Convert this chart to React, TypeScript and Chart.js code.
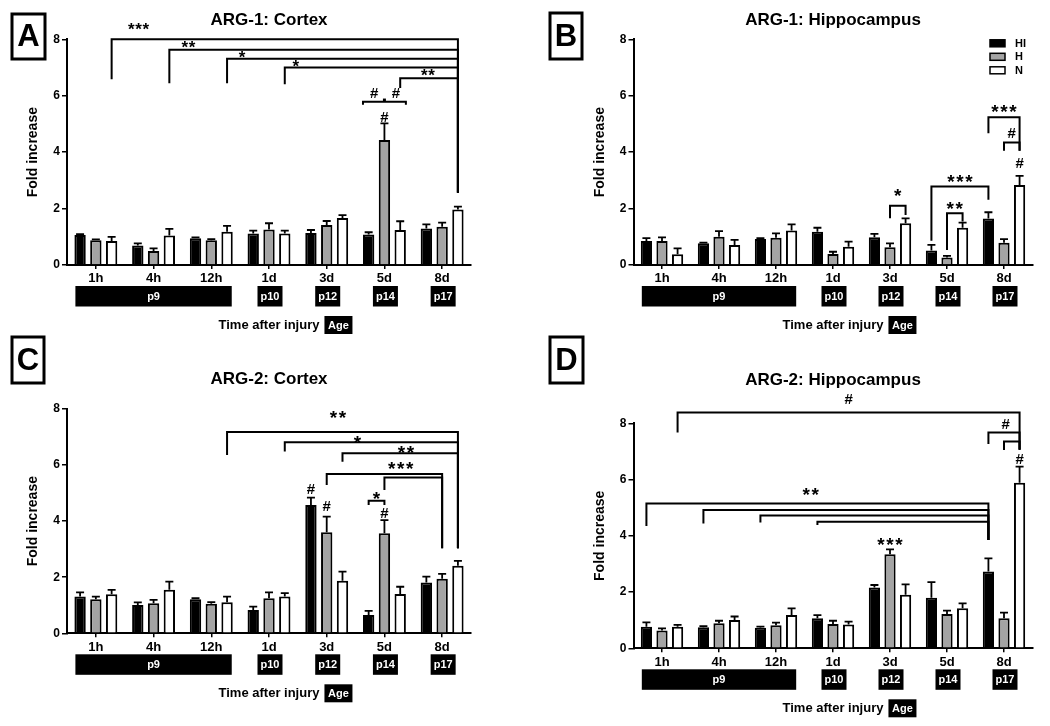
import React, { useEffect, useRef } from 'react';
import { Chart, registerables } from 'chart.js';
Chart.register(...registerables);

const FAMILY = '"Liberation Sans", Arial, Helvetica, sans-serif';

// ---------- shared data ----------
const categories = ['1h', '4h', '12h', '1d', '3d', '5d', '8d'];
const seriesNames = ['HI', 'H', 'N'];
const seriesColors = ['#000000', '#a4a4a4', '#ffffff'];
const yTicks = [0, 2, 4, 6, 8];
const ageLabels = ['p9', 'p10', 'p12', 'p14', 'p17'];
const ageSpans = [[0, 2], [3, 3], [4, 4], [5, 5], [6, 6]];

// ---------- Panel A: ARG-1 Cortex ----------
const aHI = [1.06, 0.69, 0.95, 1.12, 1.13, 1.08, 1.29];
const aH = [0.88, 0.50, 0.88, 1.26, 1.42, 4.43, 1.36];
const aN = [0.85, 1.05, 1.18, 1.12, 1.67, 1.24, 1.97];
const aHIerr = [0.03, 0.08, 0.03, 0.10, 0.11, 0.08, 0.15];
const aHerr = [0.03, 0.09, 0.04, 0.22, 0.14, 0.59, 0.14];
const aNerr = [0.15, 0.23, 0.21, 0.10, 0.10, 0.31, 0.10];

// ---------- Panel B: ARG-1 Hippocampus ----------
const bHI = [0.85, 0.77, 0.92, 1.18, 0.98, 0.51, 1.65];
const bH = [0.85, 1.00, 0.97, 0.39, 0.63, 0.27, 0.79];
const bN = [0.38, 0.71, 1.22, 0.65, 1.48, 1.32, 2.84];
const bHIerr = [0.10, 0.02, 0.03, 0.14, 0.12, 0.20, 0.22];
const bHerr = [0.13, 0.20, 0.15, 0.08, 0.14, 0.05, 0.13];
const bNerr = [0.21, 0.18, 0.22, 0.18, 0.17, 0.18, 0.32];

// ---------- Panel C: ARG-2 Cortex ----------
const cHI = [1.31, 1.01, 1.21, 0.83, 4.58, 0.65, 1.81];
const cH = [1.21, 1.07, 1.05, 1.25, 3.60, 3.57, 1.95];
const cN = [1.39, 1.55, 1.11, 1.31, 1.87, 1.40, 2.41];
const cHIerr = [0.15, 0.09, 0.04, 0.12, 0.26, 0.15, 0.21];
const cHerr = [0.10, 0.12, 0.06, 0.21, 0.56, 0.47, 0.17];
const cNerr = [0.16, 0.29, 0.20, 0.12, 0.33, 0.26, 0.17];

// ---------- Panel D: ARG-2 Hippocampus ----------
const dHI = [0.77, 0.75, 0.73, 1.07, 2.16, 1.80, 2.73];
const dH = [0.63, 0.89, 0.82, 0.86, 3.34, 1.22, 1.07];
const dN = [0.77, 1.01, 1.18, 0.85, 1.90, 1.42, 5.89];
const dHIerr = [0.15, 0.04, 0.04, 0.11, 0.09, 0.55, 0.47];
const dHerr = [0.08, 0.09, 0.09, 0.12, 0.18, 0.12, 0.20];
const dNerr = [0.06, 0.12, 0.24, 0.10, 0.37, 0.18, 0.57];

// ---------- significance annotations (data units) ----------
type Bracket = {
  a: [number, number, number]; // [category, series, leg end value]
  b: [number, number, number];
  y: number;
  text?: string;
  t?: number;
  ly?: number;
  edge?: boolean;
  mid?: [number, number];
  texts?: [string, number][];
};
type Mark = { cat: number; ser: number; y: number; text: string };

const aBrackets: Bracket[] = [
  { a: [0, 2, 6.58], b: [6, 2, 2.56], y: 8.0, text: '***', t: 0.078, ly: 8.27 },
  { a: [1, 2, 6.44], b: [6, 2, 2.56], y: 7.63, text: '**', t: 0.066, ly: 7.83 },
  { a: [2, 2, 6.44], b: [6, 2, 2.56], y: 7.31, text: '*', t: 0.065, ly: 7.45 },
  { a: [3, 2, 6.41], b: [6, 2, 2.56], y: 7.0, text: '*', t: 0.063, ly: 7.15 },
  { a: [5, 2, 6.27], b: [6, 2, 2.56], y: 6.62, text: '**', t: 0.48, ly: 6.84 },
  { a: [5, 0, 5.68], b: [5, 2, 5.68], y: 5.79, edge: true, mid: [1, 5.9], texts: [['#', 0.26], ['#', 0.77]], ly: 6.11 },
];
const aMarks: Mark[] = [{ cat: 5, ser: 1, y: 5.26, text: '#' }];

const bBrackets: Bracket[] = [
  { a: [4, 1, 1.66], b: [4, 2, 1.77], y: 2.10, text: '*', t: 0.5, ly: 2.4 },
  { a: [5, 0, 0.86], b: [6, 0, 2.31], y: 2.78, text: '***', t: 0.5, ly: 3.05 },
  { a: [5, 1, 0.53], b: [5, 2, 1.54], y: 1.83, text: '**', t: 0.5, ly: 2.12 },
  { a: [6, 0, 4.67], b: [6, 2, 4.05], y: 5.24, text: '***', t: 0.5, ly: 5.56 },
  { a: [6, 1, 4.05], b: [6, 2, 4.05], y: 4.34, text: '#', t: 0.5, ly: 4.67 },
];
const bMarks: Mark[] = [{ cat: 6, ser: 2, y: 3.61, text: '#' }];

const cBrackets: Bracket[] = [
  { a: [2, 2, 6.36], b: [6, 2, 3.03], y: 7.18, text: '**', t: 0.48, ly: 7.61 },
  { a: [3, 2, 6.48], b: [6, 2, 3.03], y: 6.81, text: '*', t: 0.42, ly: 6.93 },
  { a: [4, 2, 6.12], b: [6, 2, 3.03], y: 6.42, text: '**', t: 0.55, ly: 6.56 },
  { a: [4, 1, 5.29], b: [6, 1, 3.03], y: 5.68, text: '***', t: 0.64, ly: 5.97 },
  { a: [5, 1, 5.11], b: [6, 1, 3.03], y: 5.56 },
  { a: [5, 0, 4.58], b: [5, 1, 4.58], y: 4.73, text: '*', t: 0.5, ly: 4.93 },
];
const cMarks: Mark[] = [
  { cat: 4, ser: 0, y: 5.14, text: '#' },
  { cat: 4, ser: 1, y: 4.54, text: '#' },
  { cat: 5, ser: 1, y: 4.30, text: '#' },
];

const dBrackets: Bracket[] = [
  { a: [0, 2, 7.67], b: [6, 2, 7.07], y: 8.38, text: '#', t: 0.5, ly: 8.73 },
  { a: [6, 0, 7.26], b: [6, 2, 7.07], y: 7.67, text: '#', t: 0.55, ly: 7.96 },
  { a: [6, 1, 7.05], b: [6, 2, 7.05], y: 7.35 },
  { a: [0, 0, 4.35], b: [6, 0, 3.85], y: 5.15, text: '**', t: 0.48, ly: 5.57 },
  { a: [1, 0, 4.44], b: [6, 0, 3.85], y: 4.92 },
  { a: [2, 0, 4.47], b: [6, 0, 3.85], y: 4.72 },
  { a: [3, 0, 4.38], b: [6, 0, 3.85], y: 4.50 },
];
const dMarks: Mark[] = [
  { cat: 6, ser: 2, y: 6.72, text: '#' },
  { cat: 4, ser: 1, y: 3.79, text: '***' },
];

// ---------- layout (positions / styles) ----------
type Panel = {
  letter: string;
  title: string;
  titleY: number;
  box: [number, number, number, number];
  area: { left: number; right: number; top: number; bottom: number };
  values: number[][];
  errs: number[][];
  brackets: Bracket[];
  marks: Mark[];
  legend: boolean;
  small: boolean;
};

const panels: Panel[] = [
  {
    letter: 'A', title: 'ARG-1: Cortex', titleY: 20, box: [12, 14, 33, 45],
    area: { left: 67, right: 471, top: 39.3, bottom: 265 },
    values: [aHI, aH, aN], errs: [aHIerr, aHerr, aNerr],
    brackets: aBrackets, marks: aMarks, legend: false, small: true,
  },
  {
    letter: 'B', title: 'ARG-1: Hippocampus', titleY: 20, box: [550, 13, 32, 46],
    area: { left: 633.5, right: 1032.5, top: 39.3, bottom: 265 },
    values: [bHI, bH, bN], errs: [bHIerr, bHerr, bNerr],
    brackets: bBrackets, marks: bMarks, legend: true, small: false,
  },
  {
    letter: 'C', title: 'ARG-2: Cortex', titleY: 379, box: [12, 337, 32, 46],
    area: { left: 67, right: 471, top: 409, bottom: 633.3 },
    values: [cHI, cH, cN], errs: [cHIerr, cHerr, cNerr],
    brackets: cBrackets, marks: cMarks, legend: false, small: false,
  },
  {
    letter: 'D', title: 'ARG-2: Hippocampus', titleY: 380, box: [550, 337, 33, 46],
    area: { left: 633.5, right: 1032.5, top: 423.3, bottom: 648.3 },
    values: [dHI, dH, dN], errs: [dHIerr, dHerr, dNerr],
    brackets: dBrackets, marks: dMarks, legend: false, small: false,
  },
];

const W = 1050;
const H = 726;
const Y_W = 42;
const X_H = 20;

function drawLabel(ctx: CanvasRenderingContext2D, text: string, cx: number, cy: number, small: boolean) {
  const isHash = text.indexOf('#') >= 0;
  const size = isHash ? 15 : small ? 17 : 19;
  const spacing = isHash ? 0 : small ? 0.6 : 1.6;
  ctx.font = `bold ${size}px ${FAMILY}`;
  const m = ctx.measureText(text[0]);
  const adv = m.width + spacing;
  const n = text.length;
  const base = cy + (m.actualBoundingBoxAscent - m.actualBoundingBoxDescent) / 2;
  ctx.textAlign = 'center';
  ctx.textBaseline = 'alphabetic';
  ctx.fillStyle = '#000';
  for (let i = 0; i < n; i++) ctx.fillText(text[i], cx + (i - (n - 1) / 2) * adv, base);
}

function makePlugin(p: Panel) {
  return {
    id: 'panelDecor' + p.letter,
    afterDatasetsDraw(chart: any) {
      const ctx: CanvasRenderingContext2D = chart.ctx;
      const ys = chart.scales.y;
      ctx.save();
      ctx.strokeStyle = '#000';
      ctx.lineWidth = 1.8;
      p.values.forEach((vals, s) => {
        const meta = chart.getDatasetMeta(s);
        vals.forEach((v, i) => {
          const bar = meta.data[i];
          const top = ys.getPixelForValue(v + p.errs[s][i]);
          ctx.beginPath();
          ctx.moveTo(bar.x, bar.y);
          ctx.lineTo(bar.x, top);
          ctx.moveTo(bar.x - 4, top);
          ctx.lineTo(bar.x + 4, top);
          ctx.stroke();
        });
      });
      ctx.restore();
    },
    afterDraw(chart: any) {
      const ctx: CanvasRenderingContext2D = chart.ctx;
      const xs = chart.scales.x;
      const ys = chart.scales.y;
      const ca = chart.chartArea;
      const cx = (ca.left + ca.right) / 2;
      ctx.save();

      // panel letter box
      const [bx, by, bw, bh] = p.box;
      ctx.strokeStyle = '#000';
      ctx.lineWidth = 3;
      ctx.strokeRect(bx, by, bw, bh);
      ctx.fillStyle = '#000';
      ctx.font = `bold 31px ${FAMILY}`;
      ctx.textAlign = 'center';
      ctx.textBaseline = 'middle';
      ctx.fillText(p.letter, bx + bw / 2, by + bh / 2 + 1);

      // title
      ctx.font = `bold 17px ${FAMILY}`;
      ctx.fillText(p.title, cx, p.titleY);

      // age boxes
      const boxTop = ca.bottom + 21;
      const boxH = 20.5;
      ageLabels.forEach((lab, k) => {
        const [c0, c1] = ageSpans[k];
        let left: number;
        let right: number;
        if (c0 !== c1) {
          const b0 = chart.getDatasetMeta(0).data[c0];
          const b1 = chart.getDatasetMeta(2).data[c1];
          left = b0.x - b0.width / 2 + 1;
          right = b1.x + b1.width / 2 - 1;
        } else {
          const c = xs.getPixelForValue(c0) + 1;
          left = c - 12.5;
          right = c + 12.5;
        }
        ctx.fillStyle = '#000';
        ctx.fillRect(left, boxTop, right - left, boxH);
        ctx.fillStyle = '#fff';
        ctx.font = `bold 11px ${FAMILY}`;
        ctx.textAlign = 'center';
        ctx.textBaseline = 'middle';
        ctx.fillText(lab, (left + right) / 2, boxTop + boxH / 2 + 0.5);
      });

      // x caption with Age key
      const capY = ca.bottom + 60;
      ctx.font = `bold 13px ${FAMILY}`;
      ctx.fillStyle = '#000';
      ctx.textAlign = 'center';
      ctx.textBaseline = 'middle';
      const capText = 'Time after injury';
      const tw = ctx.measureText(capText).width;
      ctx.fillText(capText, cx, capY);
      const ageX = cx + tw / 2 + 5;
      ctx.fillRect(ageX, capY - 9, 28, 18);
      ctx.fillStyle = '#fff';
      ctx.font = `bold 11px ${FAMILY}`;
      ctx.fillText('Age', ageX + 14, capY + 0.5);

      // legend
      if (p.legend) {
        seriesNames.forEach((name, s) => {
          const yc = ca.top + 4 + s * 13.5;
          const lx = ca.right - 42.5;
          ctx.fillStyle = seriesColors[s];
          ctx.fillRect(lx, yc - 3.5, 15, 7);
          ctx.strokeStyle = '#000';
          ctx.lineWidth = 1.5;
          ctx.strokeRect(lx, yc - 3.5, 15, 7);
          ctx.fillStyle = '#000';
          ctx.font = `bold 11px ${FAMILY}`;
          ctx.textAlign = 'left';
          ctx.textBaseline = 'middle';
          ctx.fillText(name, lx + 25, yc + 0.5);
        });
      }

      // brackets
      ctx.strokeStyle = '#000';
      ctx.lineWidth = 2;
      ctx.lineJoin = 'miter';
      ctx.lineCap = 'butt';
      p.brackets.forEach((br) => {
        const ba = chart.getDatasetMeta(br.a[1]).data[br.a[0]];
        const bb = chart.getDatasetMeta(br.b[1]).data[br.b[0]];
        const x1 = br.edge ? ba.x - ba.width / 2 : ba.x;
        const x2 = br.edge ? bb.x + bb.width / 2 : bb.x;
        const yl = ys.getPixelForValue(br.y);
        ctx.beginPath();
        ctx.moveTo(x1, ys.getPixelForValue(br.a[2]));
        ctx.lineTo(x1, yl);
        ctx.lineTo(x2, yl);
        ctx.lineTo(x2, ys.getPixelForValue(br.b[2]));
        ctx.stroke();
        if (br.mid) {
          const bm = chart.getDatasetMeta(br.mid[0]).data[br.a[0]];
          ctx.beginPath();
          ctx.moveTo(bm.x, yl);
          ctx.lineTo(bm.x, ys.getPixelForValue(br.mid[1]));
          ctx.lineWidth = 3;
          ctx.stroke();
          ctx.lineWidth = 2;
        }
        const ly = ys.getPixelForValue(br.ly ?? br.y);
        if (br.text) drawLabel(ctx, br.text, x1 + (br.t ?? 0.5) * (x2 - x1), ly, p.small);
        if (br.texts) br.texts.forEach(([tx, t]) => drawLabel(ctx, tx, x1 + t * (x2 - x1), ly, p.small));
      });

      // standalone marks
      p.marks.forEach((m) => {
        const bar = chart.getDatasetMeta(m.ser).data[m.cat];
        drawLabel(ctx, m.text, bar.x, ys.getPixelForValue(m.y), p.small);
      });

      ctx.restore();
    },
  };
}

function makeConfig(p: Panel): any {
  const font = (size: number) => ({ family: FAMILY, size, weight: 'bold' as const });
  return {
    type: 'bar',
    data: {
      labels: categories,
      datasets: seriesNames.map((name, s) => ({
        label: name,
        data: p.values[s],
        backgroundColor: seriesColors[s],
        borderColor: '#000',
        borderWidth: 2,
        categoryPercentage: 0.82,
        barPercentage: 0.72,
      })),
    },
    options: {
      animation: false,
      responsive: false,
      maintainAspectRatio: false,
      events: [],
      layout: {
        padding: {
          left: p.area.left - Y_W,
          right: W - p.area.right,
          top: p.area.top,
          bottom: H - p.area.bottom - X_H,
        },
      },
      plugins: {
        legend: { display: false },
        tooltip: { enabled: false },
        title: { display: false },
      },
      scales: {
        x: {
          type: 'category',
          offset: true,
          grid: {
            display: true,
            drawOnChartArea: false,
            drawTicks: true,
            tickLength: 4,
            color: '#000',
            lineWidth: 1.5,
            offset: false,
          },
          border: { display: true, color: '#000', width: 2 },
          ticks: { color: '#000', font: font(13), padding: 2, maxRotation: 0, autoSkip: false },
          afterFit: (s: any) => { s.height = X_H; },
        },
        y: {
          min: 0,
          max: 8,
          afterBuildTicks: (s: any) => { s.ticks = yTicks.map((v) => ({ value: v })); },
          ticks: { color: '#000', font: font(12), padding: 2 },
          grid: {
            display: true,
            drawOnChartArea: false,
            drawTicks: true,
            tickLength: 5,
            color: '#000',
            lineWidth: 1.5,
          },
          border: { display: true, color: '#000', width: 2 },
          title: { display: true, text: 'Fold increase', color: '#000', font: font(14), padding: 0 },
          afterFit: (s: any) => { s.width = Y_W; },
        },
      },
    },
    plugins: [makePlugin(p)],
  };
}

function PanelChart({ p }: { p: Panel }) {
  const ref = useRef<HTMLCanvasElement>(null);
  useEffect(() => {
    if (!ref.current) return;
    const chart = new Chart(ref.current, makeConfig(p));
    return () => chart.destroy();
  }, [p]);
  return (
    <canvas
      ref={ref}
      width={W}
      height={H}
      style={{ position: 'absolute', left: 0, top: 0, width: W, height: H }}
    />
  );
}

export default function App() {
  return (
    <div style={{ position: 'fixed', left: 0, top: 0, width: W, height: H, background: '#fff', overflow: 'hidden' }}>
      {panels.map((p) => (
        <PanelChart key={p.letter} p={p} />
      ))}
    </div>
  );
}
